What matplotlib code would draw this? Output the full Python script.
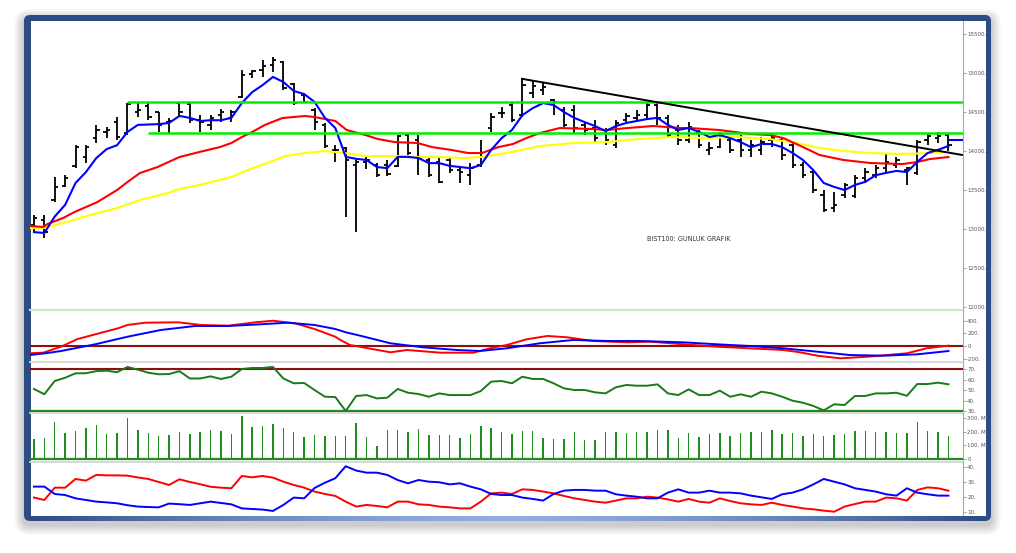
import numpy as np
import matplotlib
matplotlib.use('Agg')
import matplotlib.pyplot as plt
from matplotlib.patches import FancyBboxPatch, Rectangle

W, H = 1016, 553

# --- BIST100 daily bars ---
bar_high = [13180, 13180, 13665, 13690, 14075, 14075, 14335, 14310, 14435, 14615,
            14615, 14615, 14500, 14425, 14615, 14615, 14460, 14460, 14540, 14525,
            15040, 15040, 15165, 15205, 15155, 14870, 14745, 14550, 14360, 14075,
            14050, 13885, 13935, 13845, 13885, 14205, 14230, 14205, 13910, 13910,
            13925, 13795, 13845, 14140, 14490, 14565, 14615, 14935, 14910, 14885,
            14665, 14565, 14590, 14370, 14395, 14295, 14395, 14490, 14525, 14630,
            14630, 14460, 14335, 14370, 14270, 14115, 14245, 14180, 14205, 14140,
            14180, 14230, 14180, 14100, 13860, 13755, 13500, 13475, 13590, 13690,
            13780, 13820, 13975, 13925, 13795, 14140, 14230, 14245, 14230]
bar_low = [12960, 12885, 13345, 13540, 13780, 13845, 14100, 14165, 14140, 14205,
           14435, 14395, 14245, 14230, 14435, 14360, 14245, 14270, 14370, 14370,
           14680, 14935, 14950, 15015, 14780, 14590, 14615, 14270, 14040, 13860,
           13155, 12960, 13770, 13665, 13680, 13795, 13950, 13690, 13665, 13590,
           13720, 13590, 13565, 13795, 14245, 14425, 14370, 14435, 14680, 14720,
           14460, 14310, 14230, 14205, 14115, 14075, 14040, 14370, 14370, 14395,
           14335, 14180, 14075, 14100, 14040, 13950, 14040, 13975, 13925, 13925,
           13950, 14050, 13885, 13780, 13655, 13460, 13220, 13220, 13395, 13395,
           13590, 13655, 13720, 13780, 13565, 13690, 14075, 14100, 13990]
bar_open = [13050, 13115, 13370, 13550, 13810, 13925, 14165, 14245, 14370, 14230,
            14500, 14575, 14500, 14370, 14615, 14605, 14395, 14335, 14460, 14425,
            14690, 14985, 15040, 15105, 15140, 14860, 14720, 14525, 14335, 14015,
            14040, 13820, 13860, 13820, 13820, 13810, 14205, 14140, 13885, 13860,
            13885, 13755, 13690, 13820, 14295, 14490, 14590, 14460, 14745, 14780,
            14655, 14525, 14525, 14335, 14295, 14270, 14075, 14395, 14425, 14460,
            14590, 14425, 14270, 14140, 14230, 14015, 14050, 14140, 14140, 14015,
            14015, 14140, 14140, 14075, 13820, 13730, 13435, 13270, 13435, 13425,
            13655, 13690, 13780, 13820, 13755, 13720, 14140, 14165, 14205]
bar_close = [13140, 12960, 13540, 13655, 14050, 14050, 14270, 14270, 14180, 14600,
             14525, 14435, 14335, 14385, 14500, 14395, 14370, 14425, 14500, 14500,
             14975, 15025, 15090, 15165, 14810, 14615, 14630, 14370, 14065, 14015,
             13885, 13860, 13885, 13690, 13705, 14190, 13975, 13910, 13690, 13605,
             13755, 13730, 13780, 13925, 14435, 14490, 14395, 14845, 14835, 14820,
             14630, 14335, 14295, 14270, 14165, 14140, 14360, 14450, 14460, 14590,
             14425, 14205, 14140, 14310, 14075, 14040, 14205, 14015, 14015, 14075,
             14115, 14165, 13950, 13820, 13690, 13500, 13245, 13310, 13565, 13655,
             13730, 13780, 13860, 13885, 13780, 14115, 14190, 14190, 14075]
last_price = 14140

# moving averages
ma_fast = [12960, 12950, 13160, 13310, 13590, 13730, 13910, 14025, 14075, 14245,
           14335, 14340, 14345, 14360, 14450, 14425, 14385, 14395, 14395, 14425,
           14615, 14755, 14845, 14950, 14885, 14770, 14730, 14630, 14425, 14295,
           13925, 13900, 13885, 13795, 13780, 13925, 13925, 13910, 13845, 13845,
           13810, 13795, 13780, 13820, 14015, 14165, 14270, 14460, 14550, 14615,
           14590, 14500, 14425, 14370, 14320, 14255, 14320, 14360, 14385, 14410,
           14425, 14335, 14270, 14295, 14245, 14180, 14205, 14165, 14115, 14050,
           14090, 14090, 14050, 13975, 13885, 13755, 13590, 13540, 13500, 13565,
           13605, 13690, 13720, 13745, 13730, 13860, 13975, 14015, 14065]
ma_mid_x = [-0.4, 0.9, 1.3, 2.8, 3.9, 6.1, 8.0, 9.0, 10.2, 11.9, 14.0, 15.9, 17.9,
            19.0, 20.0, 21.0, 22.2, 23.9, 26.1, 27.0, 29.0, 30.1, 31.9, 33.1, 34.7,
            36.9, 38.3, 40.2, 41.8, 43.1, 44.7, 46.1, 47.4, 48.7, 50.6, 53.8, 55.1,
            57.1, 59.6, 60.9, 62.2, 63.1, 66.0, 68.9, 70.8, 72.1, 74.0, 75.6, 77.9,
            80.5, 83.6, 85.0, 86.2, 88.0]
ma_mid = [13039, 13026, 13064, 13141, 13218, 13346, 13500, 13603, 13718, 13795,
          13923, 13987, 14051, 14103, 14179, 14244, 14333, 14423, 14449, 14436,
          14385, 14269, 14205, 14154, 14115, 14103, 14051, 14013, 13974, 13974,
          14051, 14090, 14167, 14231, 14295, 14282, 14269, 14295, 14321, 14308,
          14295, 14295, 14269, 14218, 14205, 14167, 14051, 13949, 13885, 13846,
          13833, 13859, 13897, 13923]
ma_slow_x = [-0.4, 0.9, 2.8, 6.1, 8.0, 10.2, 12.9, 14.0, 15.9, 19.0, 20.8, 22.7,
             24.2, 26.1, 28.0, 29.9, 31.9, 35.0, 37.0, 38.9, 41.5, 43.1, 45.5,
             48.7, 51.9, 55.1, 58.3, 61.5, 64.4, 67.7, 70.8, 73.4, 75.6, 77.9,
             80.5, 83.6, 86.2, 88.0]
ma_slow = [13013, 13013, 13077, 13205, 13269, 13372, 13462, 13513, 13564, 13667,
           13769, 13859, 13936, 13974, 14000, 13974, 13936, 13936, 13923, 13923,
           13910, 13923, 13974, 14064, 14103, 14115, 14154, 14179, 14167, 14179,
           14154, 14103, 14038, 14000, 13974, 13962, 13974, 13987]

# support / resistance and trend line
resist_level, resist_start = 14630, 9
support_level, support_start = 14230, 11
trend_x = [47.0, 89.3]
trend_y = [14925, 13950]

# MACD
macd_x = [-0.4, 0.9, 2.6, 4.2, 5.9, 8.1, 9.0, 10.7, 13.9, 16.1, 18.7, 21.3, 23.0,
          25.1, 27.0, 29.0, 29.5, 30.4, 34.3, 35.9, 39.1, 42.3, 43.9, 45.5, 47.4,
          49.4, 51.3, 53.8, 57.1, 59.3, 62.5, 65.7, 68.9, 72.1, 73.7, 75.4, 77.6,
          80.2, 84.0, 85.9, 88.0]
macd = [-115, -105, -11, 110, 184, 279, 331, 367, 373, 331, 320, 373, 398, 358,
        268, 146, 94, 16, -99, -63, -105, -105, -36, 16, 105, 158, 137, 79, 58,
        68, 27, -11, -36, -63, -99, -153, -194, -169, -115, -36, 5]
signal_x = [-0.4, 1.1, 2.6, 5.9, 9.0, 12.2, 15.5, 18.7, 21.8, 24.4, 27.0, 29.0,
            30.0, 31.4, 34.3, 37.4, 40.7, 42.9, 45.5, 48.7, 51.9, 55.1, 58.3,
            62.5, 65.7, 68.9, 72.1, 75.4, 78.5, 81.7, 85.0, 88.0]
signal = [-142, -115, -79, 27, 146, 252, 315, 315, 342, 367, 331, 268, 216, 162,
          43, -20, -63, -79, -36, 43, 95, 79, 79, 58, 27, 0, -36, -90, -142, -153,
          -131, -79]

# RSI
rsi = [51, 46, 58.6, 61.7, 65.9, 66, 68, 68.4, 67, 72, 69.4, 66.5, 65, 65.2, 68,
       61, 61, 63, 60.5, 62.7, 70, 71, 71, 72, 61, 56.4, 56.7, 50, 43.6, 43.3, 30,
       44.3, 45.2, 42, 42.7, 51, 47.4, 46.2, 43.6, 46.8, 45.2, 45.2, 45.2, 49, 58,
       58.6, 56.4, 62.7, 60.5, 60.5, 56.4, 51.6, 50, 50, 47.8, 46.8, 52.6, 54.8,
       54.1, 54.1, 55.4, 46.8, 45.2, 50.6, 45.2, 45.2, 49.4, 43.6, 45.9, 43.6,
       48.4, 46.8, 43.6, 39.8, 37.9, 34.8, 30.6, 36.4, 35.7, 44.3, 44.3, 46.8,
       46.8, 47.4, 44.5, 55.7, 55.7, 57, 55.4]

# volume (millions)
volume = [146, 151, 272, 187, 204, 224, 248, 180, 192, 297, 212, 192, 170, 175,
          195, 180, 199, 209, 202, 182, 316, 236, 243, 255, 229, 199, 163, 175,
          165, 170, 168, 260, 158, 97, 212, 212, 199, 217, 175, 175, 173, 156, 182,
          239, 224, 197, 180, 207, 204, 151, 146, 144, 195, 139, 141, 195, 199,
          190, 199, 197, 209, 209, 156, 192, 163, 180, 190, 170, 190, 199, 199,
          214, 182, 187, 170, 180, 165, 175, 180, 204, 204, 195, 195, 192, 190,
          268, 202, 195, 170]

# DMI
di_plus = [19.6, 18, 26.2, 26.2, 32, 30.9, 34.7, 34.4, 34.4, 34.2, 33, 32, 30, 28,
           31.8, 30, 28.5, 26.8, 26.2, 25.8, 34, 33.1, 34, 32.9, 30.2, 28, 26.2,
           23.6, 22, 20.7, 16.9, 13.6, 14.7, 14, 13.1, 16.9, 16.9, 15.1, 14.7, 13.6,
           13.1, 12.4, 12.4, 16.9, 22.4, 22.9, 22, 25.1, 24.7, 23.6, 22.4, 20.7,
           19.1, 18, 16.9, 16.2, 17.6, 19.1, 19.1, 20.2, 19.6, 18.4, 16.9, 18.7,
           16.9, 16.2, 19.1, 17.3, 15.8, 15.1, 14.7, 16.2, 14.7, 13.6, 12.4, 11.8,
           10.9, 10.2, 13.6, 15.3, 16.9, 16.9, 19.6, 19.1, 17.6, 24.7, 26.4, 25.8,
           24.2]
di_minus = [26.9, 26.9, 22, 21.3, 19.1, 18, 16.9, 16.4, 15.8, 14.5, 13.6, 13.3,
            13.1, 15.6, 15.2, 14.7, 15.8, 16.9, 16, 15.1, 12.4, 12, 11.6, 10.7,
            14.7, 19.6, 19.1, 26, 29.5, 32.5, 40.5, 37.6, 36.2, 36.2, 34.7, 31.3,
            29.1, 31.3, 30.2, 29.8, 28.4, 29.1, 26.9, 25.1, 22, 21.3, 21.3, 19.6,
            18.7, 17.6, 22, 24.2, 24.7, 24.7, 24.2, 24.2, 21.8, 20.9, 20.2, 19.1,
            19.1, 22.9, 25.1, 22.9, 22.9, 24.2, 22.9, 22.9, 22.4, 20.9, 19.8, 18.7,
            21.8, 22.9, 25.1, 28.4, 32, 30.2, 28.4, 25.8, 24.7, 23.6, 21.8, 20.9,
            25.8, 22.9, 21.8, 20.9, 20.9]

price_ticks = [12000, 12500, 13000, 13500, 14000, 14500, 15000, 15500]
macd_ticks = [-200, 0, 200, 400]
rsi_ticks = [30, 40, 50, 60, 70]
vol_ticks = [0, 100, 200, 300]
dmi_ticks = [10, 20, 30, 40]

idx = np.arange(len(bar_high))
x_lim = (-0.38, 89.4)

fig = plt.figure(figsize=(W / 100, H / 100), dpi=100)
fig.patch.set_facecolor('white')

# frame with soft shadow
bg = fig.add_axes([0, 0, 1, 1])
bg.set_xlim(0, W)
bg.set_ylim(H, 0)
bg.axis('off')
for k in range(10, 0, -1):
    bg.add_patch(FancyBboxPatch((24 - k, 15 - k + 4), 967 + 2 * k, 506 + 2 * k,
                                boxstyle='round,pad=0,rounding_size=%d' % (6 + k),
                                fc='black', ec='none', alpha=0.018))
bg.add_patch(FancyBboxPatch((24, 15), 967, 506, boxstyle='round,pad=0,rounding_size=6',
                            fc='#2d4c84', ec='none'))
grad = np.abs(np.linspace(-1, 1, 300)) ** 1.6
strip = np.array([[0x2d, 0x4c, 0x84]]) / 255 * grad[:, None] + \
        np.array([[0x90, 0xac, 0xe0]]) / 255 * (1 - grad[:, None])
bg.imshow(strip[None, :, :], extent=(34, 981, 521, 515.5), aspect='auto', zorder=2)
bg.add_patch(Rectangle((30.5, 20.5), 955, 495, fc='white', ec='none', zorder=3))


def panel(y0, y1):
    ax = fig.add_axes([30 / W, 1 - y1 / H, 933 / W, (y1 - y0) / H])
    ax.set_facecolor('none')
    ax.set_xlim(*x_lim)
    ax.set_xticks([])
    for s in ['top', 'left']:
        ax.spines[s].set_visible(False)
    ax.spines['right'].set_color('#a8a8a8')
    ax.spines['right'].set_linewidth(0.8)
    ax.spines['bottom'].set_color('#d6d6d6')
    ax.spines['bottom'].set_linewidth(1.3)
    ax.yaxis.tick_right()
    ax.tick_params(axis='y', direction='out', length=2, width=0.6, colors='#909090',
                   labelcolor='#555555', labelsize=4, pad=1)
    return ax


# main price panel
ax = panel(21, 310)
ax.spines['bottom'].set_color('#c6e6c6')
ax.spines['bottom'].set_linewidth(1.6)
ax.set_ylim(11962, 15667)
ax.vlines(idx, bar_low, bar_high, color='black', lw=1.3)
ax.hlines(bar_open, idx - 0.32, idx, color='black', lw=1.3)
ax.hlines(bar_close, idx, idx + 0.32, color='black', lw=1.3)
ax.plot(ma_slow_x, ma_slow, color='#ffff00', lw=1.5)
ax.plot(ma_mid_x, ma_mid, color='#ff0000', lw=1.5)
ax.plot(idx, ma_fast, color='#0000ff', lw=1.5)
ax.hlines(last_price, idx[-1] + 0.1, x_lim[1], color='#0000ff', lw=1.5)
ax.hlines(resist_level, resist_start, x_lim[1], color='#00ee00', lw=1.8)
ax.hlines(support_level, support_start, x_lim[1], color='#00ee00', lw=1.8)
ax.plot(trend_x, trend_y, color='black', lw=1.4)
ax.set_yticks(price_ticks)
ax.set_yticklabels(['%d.' % v for v in price_ticks])
ax.text(0.661, 0.245, 'BIST100: GUNLUK GRAFIK', transform=ax.transAxes,
        fontsize=4.7, color='#333333', ha='left', va='center')

# MACD
ax = panel(310, 362)
ax.set_ylim(-252, 567)
ax.axhline(0, color='#8b1010', lw=1.5)
ax.plot(macd_x, macd, color='#ff0000', lw=1.4)
ax.plot(signal_x, signal, color='#0000ff', lw=1.4)
ax.set_yticks(macd_ticks)
ax.set_yticklabels(['-200.', '0', '200.', '400.'])

# RSI
ax = panel(362, 413)
ax.set_ylim(28.1, 76.7)
ax.axhline(70, color='#8b1010', lw=1.5)
ax.axhline(30, color='#1a8a1a', lw=1.6)
ax.plot(idx, rsi, color='#1a7a1a', lw=1.4)
ax.set_yticks(rsi_ticks)
ax.set_yticklabels(['%d.' % v for v in rsi_ticks])

# volume
ax = panel(413, 462)
ax.set_ylim(-22, 336)
ax.bar(idx, volume, width=0.14, color='#1e8c1e')
ax.axhline(0, color='#1e8c1e', lw=1.6)
ax.set_yticks(vol_ticks)
ax.set_yticklabels(['0', '100. M', '200. M', '300. M'])

# DMI
ax = panel(462, 515)
ax.spines['bottom'].set_visible(False)
ax.set_ylim(8, 43.3)
ax.plot(idx, di_plus, color='#ff0000', lw=1.4)
ax.plot(idx, di_minus, color='#0000ff', lw=1.4)
ax.set_yticks(dmi_ticks)
ax.set_yticklabels(['%d.' % v for v in dmi_ticks])

fig.savefig('out.png', dpi=100)
